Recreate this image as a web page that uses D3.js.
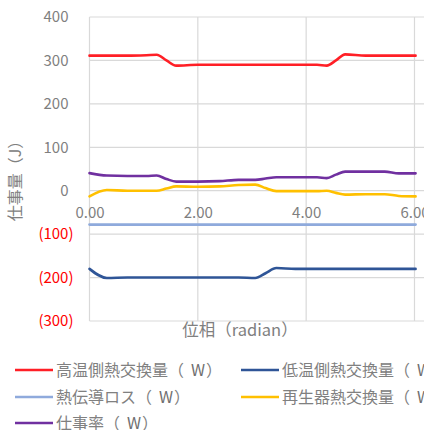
<!DOCTYPE html>
<html><head><meta charset="utf-8">
<script src="https://cdn.jsdelivr.net/npm/d3@7"></script>
<style>
body{margin:0;background:#fff;}
svg{display:block;font-family:"Noto Sans CJK JP","Noto Sans",sans-serif;}
</style></head>
<body><svg id="chart" width="424" height="430"></svg>
<script>
// Phase samples (radian)
const phase = [0, 0.32, 0.7, 1.05, 1.24, 1.42, 1.6, 2.0, 2.4, 2.75, 3.06, 3.25, 3.45, 3.8, 4.2, 4.38, 4.55, 4.72, 5.1, 5.45, 5.71, 6.02];
// Series values (J)
const hotSide   = [311, 311, 311, 312, 313, 300, 288, 290, 290, 290, 290, 290, 290, 290, 290, 288, 300, 314, 311, 311, 311, 311];
const coldSide  = [-180, -201, -200, -200, -200, -200, -200, -200, -200, -200, -201, -190, -178, -180, -180, -180, -180, -180, -180, -180, -180, -180];
const condLoss  = [-78, -78, -78, -78, -78, -78, -78, -78, -78, -78, -78, -78, -78, -78, -78, -78, -78, -78, -78, -78, -78, -78];
const regen     = [-13, 1.5, 0, 0, 0, 5, 10, 9, 10, 13, 14, 6, -1, -1, -1, 0, -5, -9, -8, -8, -12, -13];
const work      = [40.5, 35, 34, 34, 35, 27, 21, 21, 22, 25, 25, 28, 31, 31, 31, 29, 37, 44, 44, 44, 40, 40];

const seriesNames = ["高温側熱交換量", "低温側熱交換量", "熱伝導ロス", "再生器熱交換量", "仕事率"];
const seriesUnit = "W";
const seriesValues = [hotSide, coldSide, condLoss, regen, work];
const seriesColors = ["#ff1f26", "#2f5597", "#8faadc", "#ffc000", "#7030a0"];

const yTicks = [400, 300, 200, 100, 0, -100, -200, -300];
const xTicks = [0, 2, 4, 6];

const svg = d3.select("#chart");
const x = d3.scaleLinear().domain([0, 6]).range([89.5, 414.5]);
const y = d3.scaleLinear().domain([-300, 400]).range([321, 17]);
const xMax = 6.3;

// gridlines
const grid = svg.append("g").attr("stroke", "#d9d9d9").attr("stroke-width", 1.2);
yTicks.forEach(t => grid.append("line")
  .attr("x1", x(0)).attr("x2", x(xMax)).attr("y1", y(t)).attr("y2", y(t)));
xTicks.forEach(t => grid.append("line")
  .attr("x1", x(t)).attr("x2", x(t)).attr("y1", y(400)).attr("y2", y(-300)));

// y axis labels: accounting style, negatives in red parentheses,
// positives padded by the width of the closing parenthesis
const yAxis = d3.axisLeft(y).tickValues(yTicks).tickSize(0).tickPadding(16)
  .tickFormat(d => d < 0 ? "(" + (-d) + ")" : String(d));
const gy = svg.append("g").attr("transform", `translate(${x(0)},0)`).call(yAxis);
gy.select(".domain").remove();
gy.selectAll("text").attr("font-size", 15).attr("font-family", "'Noto Sans CJK JP',sans-serif")
  .attr("fill", d => d < 0 ? "#ff0000" : "#7f7f7f")
  .attr("dx", d => d < 0 ? 0 : -5);

// x axis labels sit below the zero line
const xAxis = d3.axisBottom(x).tickValues(xTicks).tickSize(0)
  .tickFormat(d3.format(".2f"));
const gx = svg.append("g").attr("transform", `translate(0,${y(0)})`).call(xAxis);
gx.select(".domain").remove();
gx.selectAll("text").attr("font-size", 15).attr("font-family", "'Noto Sans CJK JP',sans-serif")
  .attr("fill", "#7f7f7f").attr("dy", "0.35em").attr("y", 22);

// series lines
const line = d3.line().x((d, i) => x(phase[i])).y(d => y(d)).curve(d3.curveMonotoneX);
seriesValues.forEach((vals, k) => {
  svg.append("path").datum(vals)
    .attr("fill", "none").attr("stroke", seriesColors[k])
    .attr("stroke-width", 2.6).attr("stroke-linejoin", "round").attr("stroke-linecap", "round")
    .attr("d", line);
});

// axis titles
svg.append("text").attr("x", 240).attr("y", 336)
  .attr("text-anchor", "middle").attr("font-size", 16.5).attr("fill", "#808080")
  .text("位相（radian）");
svg.append("text").attr("transform", "translate(21,177) rotate(-90)")
  .attr("text-anchor", "middle").attr("font-size", 16).attr("fill", "#808080")
  .text("仕事量（J）");

// legend
const legendPos = [[15, 370], [241, 370], [15, 397], [241, 397], [15, 423]];
seriesNames.forEach((name, k) => {
  const [lx, ly] = legendPos[k];
  svg.append("line").attr("x1", lx).attr("x2", lx + 38).attr("y1", ly).attr("y2", ly)
    .attr("stroke", seriesColors[k]).attr("stroke-width", 2.6);
  const t = svg.append("text").attr("x", lx + 41).attr("y", ly).attr("dy", "0.35em")
    .attr("font-size", 16).attr("fill", "#808080");
  t.append("tspan").text(name + "（");
  t.append("tspan").attr("dx", 7).attr("fill", "#6f6f6f").text(seriesUnit);
  t.append("tspan").attr("dx", 1).text("）");
});
</script></body></html>
